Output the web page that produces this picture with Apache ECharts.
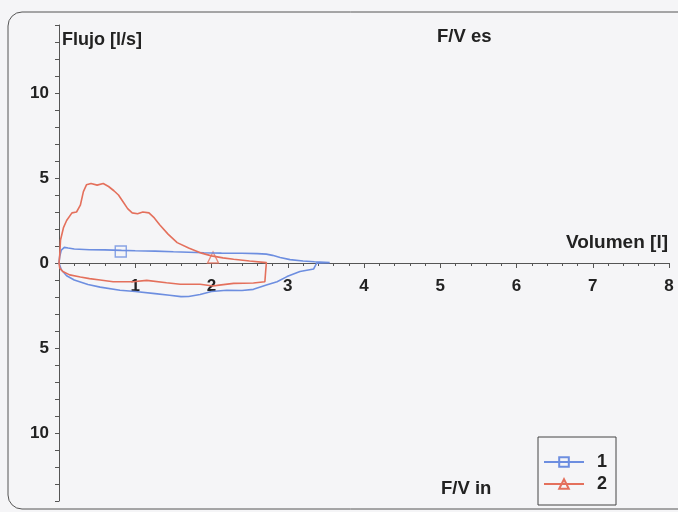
<!DOCTYPE html>
<html>
<head>
<meta charset="utf-8">
<script src="https://cdn.jsdelivr.net/npm/echarts@6/dist/echarts.min.js"></script>
<style>
  html, body { margin: 0; padding: 0; background: #f5f5f7; }
  #chart { width: 678px; height: 512px; }
</style>
</head>
<body>
<div id="chart"></div>
<script>
  // curva 1 (azul): espiracion y luego inspiracion
  var vol1 = [0, 0.01, 0.03, 0.07, 0.12, 0.2, 0.4, 0.6, 0.82, 1.0, 1.26, 1.5, 1.7, 1.9, 2.13, 2.4, 2.6, 2.72, 2.8, 2.9, 3.03, 3.2, 3.35, 3.55,
              3.38, 3.34, 3.16, 2.99, 2.86, 2.72, 2.55, 2.4, 2.2, 2.0, 1.85, 1.7, 1.6, 1.45, 1.26, 1.0, 0.8, 0.54, 0.38, 0.2, 0.1, 0.03, 0];
  var flow1 = [0, 0.4, 0.76, 0.92, 0.88, 0.82, 0.78, 0.77, 0.74, 0.72, 0.7, 0.66, 0.63, 0.6, 0.58, 0.57, 0.55, 0.52, 0.45, 0.32, 0.2, 0.12, 0.07, 0.02,
               0, -0.35, -0.5, -0.8, -1.1, -1.3, -1.55, -1.62, -1.6, -1.68, -1.85, -1.97, -1.98, -1.9, -1.8, -1.68, -1.6, -1.42, -1.27, -1.0, -0.75, -0.4, 0];

  // curva 2 (roja)
  var vol2 = [0, 0.01, 0.02, 0.06, 0.1, 0.17, 0.23, 0.28, 0.32, 0.36, 0.42, 0.5, 0.58, 0.65, 0.72, 0.78, 0.84, 0.9, 0.96, 1.03, 1.1, 1.18, 1.25, 1.32, 1.43, 1.55, 1.7, 1.87, 2.0, 2.15, 2.29, 2.5, 2.72,
              2.71, 2.7, 2.55, 2.29, 2.1, 2.02, 1.85, 1.59, 1.41, 1.15, 0.97, 0.71, 0.54, 0.4, 0.28, 0.14, 0.05, 0.01, 0];
  var flow2 = [0, 0.5, 1.35, 2.1, 2.5, 2.95, 3.0, 3.4, 4.2, 4.6, 4.68, 4.58, 4.68, 4.5, 4.25, 4.0, 3.6, 3.2, 2.95, 2.9, 3.0, 2.95, 2.65, 2.25, 1.7, 1.2, 0.88, 0.58, 0.42, 0.3, 0.22, 0.12, 0.02,
               -0.5, -1.1, -1.18, -1.2, -1.3, -1.35, -1.25, -1.25, -1.16, -1.02, -1.1, -1.1, -1.0, -0.92, -0.82, -0.7, -0.5, -0.3, 0];

  // marcadores
  var mark1 = [0.81, 0.68];
  var mark2 = [2.02, 0.32];

  var yLabels = [-10, -5, 0, 5, 10];

  var blue = '#6d8ee0';
  var red = '#e4705c';
  var ink = '#222';
  var font = 'Liberation Sans, Arial, sans-serif';

  function pairs(xs, ys) {
    return xs.map(function (x, i) { return [x, ys[i]]; });
  }

  var yTicks = [];
  for (var v = -14; v <= 14; v++) yTicks.push(v);

  // el eje x se dibuja a la altura de flujo 0 (mitad de la rejilla)
  var gridTop = 25, gridBottom = 11, gridH = 512 - gridTop - gridBottom;

  var chart = echarts.init(document.getElementById('chart'));
  chart.setOption({
    backgroundColor: '#f5f5f7',
    animation: false,
    grid: { left: 59, right: 9, top: gridTop, bottom: gridBottom, outerBoundsMode: 'none' },
    xAxis: {
      type: 'value',
      position: 'bottom',
      offset: -gridH / 2,
      min: 0,
      max: 8,
      interval: 1,
      axisLine: { onZero: false, lineStyle: { color: '#555', width: 1 } },
      axisTick: { length: 5, lineStyle: { color: '#555' } },
      minorTick: { show: true, splitNumber: 5, length: 3, lineStyle: { color: '#555' } },
      splitLine: { show: false },
      axisLabel: {
        show: true,
        margin: 15,
        color: ink,
        fontSize: 17,
        fontWeight: 'bold',
        fontFamily: font,
        formatter: function (val) { return val === 0 ? '' : String(val); }
      }
    },
    yAxis: {
      type: 'value',
      min: -14,
      max: 14,
      axisLine: { show: true, onZero: false, lineStyle: { color: '#555', width: 1 } },
      axisTick: { show: true, length: 4, customValues: yTicks, lineStyle: { color: '#555' } },
      splitLine: { show: false },
      axisLabel: {
        margin: 10,
        color: ink,
        fontSize: 17,
        fontWeight: 'bold',
        fontFamily: font,
        customValues: yLabels,
        formatter: function (val) { return Math.abs(val); }
      }
    },
    legend: {
      left: 538,
      top: 437,
      orient: 'vertical',
      data: ['1', '2'],
      itemWidth: 40,
      itemHeight: 12,
      itemGap: 4,
      padding: [16, 9, 12, 5],
      borderColor: '#444',
      borderWidth: 1,
      textStyle: { color: ink, fontSize: 18, fontWeight: 'bold', fontFamily: font, padding: [0, 0, 0, 8] }
    },
    graphic: [
      {
        type: 'rect',
        shape: { x: 8, y: 12, width: 720, height: 497, r: 14 },
        style: { fill: 'none', stroke: '#555', lineWidth: 1 },
        silent: true
      },
      { type: 'text', style: { text: 'Flujo [l/s]', x: 62, y: 40, verticalAlign: 'middle', font: 'bold 18px ' + font, fill: ink } },
      { type: 'text', style: { text: 'F/V es', x: 437, y: 37, verticalAlign: 'middle', font: 'bold 18.5px ' + font, fill: ink } },
      { type: 'text', style: { text: 'Volumen [l]', x: 668, y: 243, align: 'right', verticalAlign: 'middle', font: 'bold 19px ' + font, fill: ink } },
      { type: 'text', style: { text: 'F/V in', x: 441, y: 489, verticalAlign: 'middle', font: 'bold 18.5px ' + font, fill: ink } }
    ],
    series: [
      {
        name: '1',
        type: 'line',
        data: pairs(vol1, flow1),
        showSymbol: false,
        symbol: 'rect',
        symbolSize: 10,
        lineStyle: { color: blue, width: 1.6 },
        itemStyle: { color: 'rgba(0,0,0,0)', borderColor: blue, borderWidth: 1.3 }
      },
      {
        name: '2',
        type: 'line',
        data: pairs(vol2, flow2),
        showSymbol: false,
        symbol: 'triangle',
        symbolSize: 10,
        lineStyle: { color: red, width: 1.6 },
        itemStyle: { color: 'rgba(0,0,0,0)', borderColor: red, borderWidth: 1.3 }
      },
      {
        name: 'm1',
        type: 'scatter',
        data: [mark1],
        symbol: 'rect',
        symbolSize: 11,
        itemStyle: { color: 'rgba(0,0,0,0)', borderColor: blue, borderWidth: 1.4 }
      },
      {
        name: 'm2',
        type: 'scatter',
        data: [mark2],
        symbol: 'triangle',
        symbolSize: 11,
        itemStyle: { color: 'rgba(0,0,0,0)', borderColor: red, borderWidth: 1.4 }
      }
    ]
  });
</script>
</body>
</html>
